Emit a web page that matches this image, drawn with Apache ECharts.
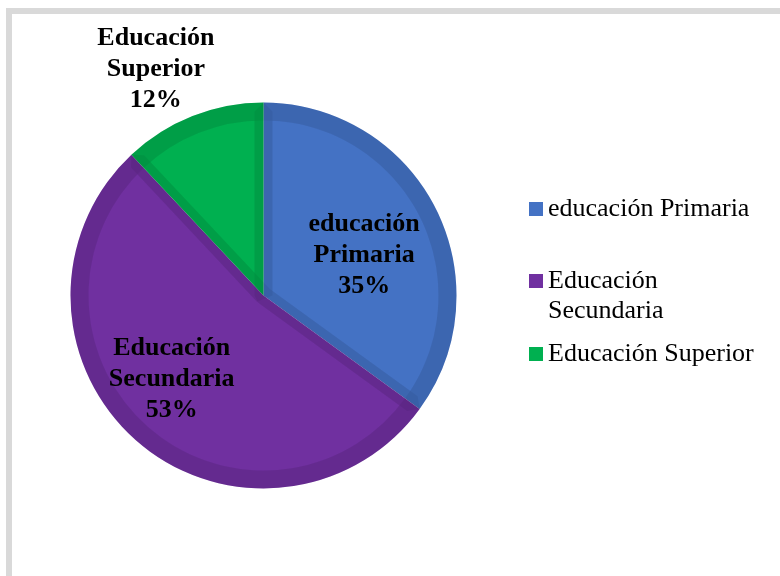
<!DOCTYPE html>
<html>
<head>
<meta charset="utf-8">
<title>Nivel educativo</title>
<script src="https://cdn.jsdelivr.net/npm/echarts@6/dist/echarts.min.js"></script>
<style>
  html, body { margin: 0; padding: 0; background: #ffffff; }
  #chart { width: 780px; height: 576px; }
</style>
</head>
<body>
<div id="chart"></div>
<script>
// Education level shares (%)
const categories = ['educación Primaria', 'Educación Secundaria', 'Educación Superior'];
const shares = [35, 53, 12];
const sliceColors = ['#4472C4', '#7030A0', '#00B050'];

// Label nudges from the default inside position [dx, dy]
const labelNudge = [[12, 5], [-26, 9], [-71, -134]];

const pieCenter = [263.5, 295.5];
const serif = 'Liberation Serif';

const baseData = categories.map((name, i) => ({
  name: name,
  value: shares[i],
  itemStyle: { color: sliceColors[i] }
}));
const overlayData = categories.map((name, i) => ({ name: name, value: shares[i] }));

const chart = echarts.init(document.getElementById('chart'), null, { renderer: 'canvas' });

function legendFor(index, top) {
  return {
    data: [categories[index]],
    orient: 'vertical',
    left: 529,
    top: top,
    padding: 0,
    icon: 'rect',
    itemWidth: 14,
    itemHeight: 14,
    selectedMode: false,
    formatter: function (name) {
      // wrapped entry: a blank first line keeps the marker beside the first word
      return index === 1 ? '\n' + name.replace(' ', '\n') : name;
    },
    textStyle: {
      fontFamily: serif,
      fontSize: 26,
      lineHeight: 30,
      color: '#000000'
    }
  };
}

const option = {
  animation: false,
  backgroundColor: '#ffffff',
  graphic: [{
    type: 'rect',
    silent: true,
    shape: { x: 9, y: 11, width: 900, height: 700 },
    style: { fill: 'none', stroke: '#d9d9d9', lineWidth: 6 }
  }],
  legend: [
    legendFor(0, 194),
    legendFor(1, 236),
    legendFor(2, 339)
  ],
  series: [
    {
      name: 'base',
      type: 'pie',
      center: pieCenter,
      radius: 193,
      startAngle: 90,
      clockwise: true,
      avoidLabelOverlap: false,
      data: baseData,
      emphasis: { disabled: true },
      label: {
        show: true,
        position: 'inside',
        fontFamily: serif,
        fontWeight: 'bold',
        fontSize: 26,
        lineHeight: 31,
        color: '#000000',
        align: 'center',
        formatter: function (p) {
          return p.name.replace(' ', '\n') + '\n' + p.value + '%';
        }
      },
      labelLine: { show: false },
      labelLayout: function (params) {
        const n = labelNudge[params.dataIndex];
        return { dx: n[0], dy: n[1] };
      }
    },
    {
      // inner bevel along every slice edge
      name: 'bevel',
      type: 'pie',
      silent: true,
      center: pieCenter,
      radius: 184,
      startAngle: 90,
      clockwise: true,
      legendHoverLink: false,
      data: overlayData,
      emphasis: { disabled: true },
      label: { show: false },
      labelLine: { show: false },
      itemStyle: {
        color: 'rgba(0,0,0,0)',
        borderColor: 'rgba(0,0,0,0.05)',
        borderWidth: 18,
        borderJoin: 'bevel'
      }
    },
    {
      // rim shading to match the doubled radial bevel
      name: 'rim',
      type: 'pie',
      silent: true,
      center: pieCenter,
      radius: [175, 193],
      startAngle: 90,
      clockwise: true,
      legendHoverLink: false,
      data: overlayData,
      emphasis: { disabled: true },
      label: { show: false },
      labelLine: { show: false },
      itemStyle: { color: 'rgba(0,0,0,0.05)', borderWidth: 0 }
    }
  ]
};

chart.setOption(option);
</script>
</body>
</html>
